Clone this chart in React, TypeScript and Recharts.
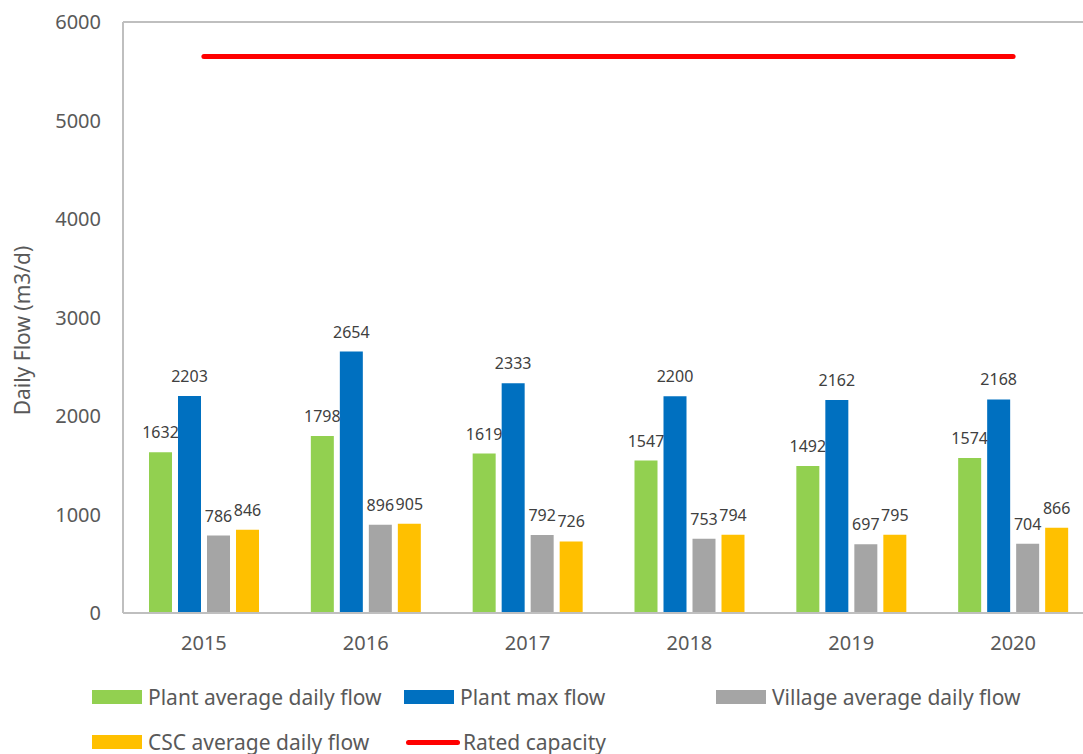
import {
  ComposedChart, Bar, Line, XAxis, YAxis, Legend, LabelList, ReferenceLine,
} from "recharts";

const years = ["2015", "2016", "2017", "2018", "2019", "2020"];
const plantAvg = [1632, 1798, 1619, 1547, 1492, 1574];
const plantMax = [2203, 2654, 2333, 2200, 2162, 2168];
const villageAvg = [786, 896, 792, 753, 697, 704];
const cscAvg = [846, 905, 726, 794, 795, 866];
const rated = [5650, 5650, 5650, 5650, 5650, 5650];
const yTicks = [0, 1000, 2000, 3000, 4000, 5000, 6000];

const data = years.map((y, i) => ({
  year: y,
  plantAvg: plantAvg[i],
  plantMax: plantMax[i],
  villageAvg: villageAvg[i],
  cscAvg: cscAvg[i],
  rated: rated[i],
}));

const FONT = "'Noto Sans', sans-serif";
const TEXT = "#595959";
const AXIS = "#bfbfbf";

const legendRows = [
  [
    { name: "Plant average daily flow", color: "#92d050", kind: "rect" },
    { name: "Plant max flow", color: "#0070c0", kind: "rect" },
    { name: "Village average daily flow", color: "#a5a5a5", kind: "rect" },
  ],
  [
    { name: "CSC average daily flow", color: "#ffc000", kind: "rect" },
    { name: "Rated capacity", color: "#ff0000", kind: "line" },
  ],
];

function ChartLegend() {
  return (
    <div style={{ position: "relative", height: 74, fontFamily: FONT, fontSize: 21, color: TEXT }}>
      {legendRows.map((row, r) => (
        <div key={r} style={{ position: "absolute", left: 92, top: r * 45, height: 34, display: "flex", alignItems: "center" }}>
          {row.map((it) => (
            <div key={it.name} style={{ width: 312, display: "flex", alignItems: "center" }}>
              {it.kind === "rect" ? (
                <span style={{ width: 50, height: 14, background: it.color, marginRight: 6 }} />
              ) : (
                <span style={{ width: 54, height: 5, borderRadius: 3, background: it.color, marginLeft: 2, marginRight: 3 }} />
              )}
              <span style={{ whiteSpace: "nowrap" }}>{it.name}</span>
            </div>
          ))}
        </div>
      ))}
    </div>
  );
}

// rotated axis title, nudged a little below the plot centre like the original
function YTitle({ viewBox }: any) {
  const cx = 22;
  const cy = viewBox.y + viewBox.height / 2 + 13;
  return (
    <text
      x={cx}
      y={cy}
      transform={`rotate(-90, ${cx}, ${cy})`}
      textAnchor="middle"
      dominantBaseline="central"
      fill={TEXT}
      fontSize={21}
      fontFamily={FONT}
    >
      Daily Flow (m3/d)
    </text>
  );
}

const labelStyle = { fontSize: 16, fill: "#404040", fontFamily: FONT };

export default function App() {
  return (
    <div style={{ position: "absolute", left: 0, top: 0, width: 1083, height: 754, overflow: "hidden", background: "#fff" }}>
      <ComposedChart
        width={1100}
        height={754}
        data={data}
        margin={{ top: 22, right: 6, left: 0, bottom: 0 }}
        barGap={6}
      >
        <XAxis
          dataKey="year"
          height={67}
          axisLine={{ stroke: AXIS, strokeWidth: 2 }}
          tickLine={false}
          tickSize={6}
          tickMargin={17}
          tick={{ fill: TEXT, fontSize: 20, fontFamily: FONT }}
        />
        <YAxis
          width={123}
          domain={[0, 6000]}
          ticks={yTicks}
          axisLine={{ stroke: AXIS, strokeWidth: 2 }}
          tickLine={false}
          tickSize={6}
          tickMargin={16}
          tick={{ fill: TEXT, fontSize: 20, fontFamily: FONT }}
          label={{ content: (p: any) => <YTitle {...p} /> }}
        />
        <ReferenceLine y={6000} stroke={AXIS} strokeWidth={2} />
        <Legend
          verticalAlign="bottom"
          wrapperStyle={{ height: 74, width: 1100, left: 0 }}
          content={() => <ChartLegend />}
        />
        <Bar dataKey="plantAvg" name="Plant average daily flow" fill="#92d050" barSize={23} isAnimationActive={false}>
          <LabelList dataKey="plantAvg" position="top" offset={14} style={labelStyle} />
        </Bar>
        <Bar dataKey="plantMax" name="Plant max flow" fill="#0070c0" barSize={23} isAnimationActive={false}>
          <LabelList dataKey="plantMax" position="top" offset={14} style={labelStyle} />
        </Bar>
        <Bar dataKey="villageAvg" name="Village average daily flow" fill="#a5a5a5" barSize={23} isAnimationActive={false}>
          <LabelList dataKey="villageAvg" position="top" offset={14} style={labelStyle} />
        </Bar>
        <Bar dataKey="cscAvg" name="CSC average daily flow" fill="#ffc000" barSize={23} isAnimationActive={false}>
          <LabelList dataKey="cscAvg" position="top" offset={14} style={labelStyle} />
        </Bar>
        <Line
          dataKey="rated"
          name="Rated capacity"
          stroke="#ff0000"
          strokeWidth={5}
          strokeLinecap="round"
          dot={false}
          activeDot={false}
          isAnimationActive={false}
        />
      </ComposedChart>
    </div>
  );
}
